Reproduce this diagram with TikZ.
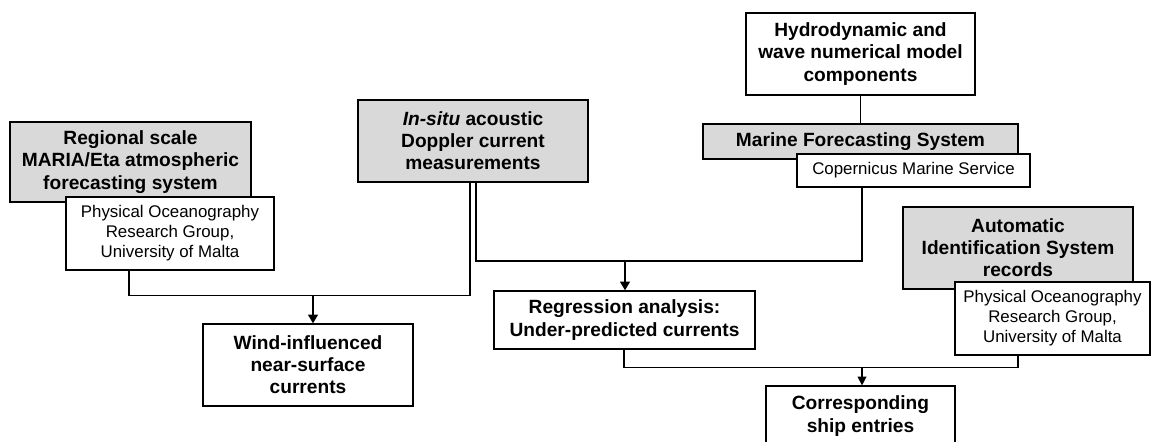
\documentclass[tikz,border=0pt]{standalone}
\usepackage{fontspec}
\setmainfont{Liberation Sans}
\usetikzlibrary{arrows.meta}
\definecolor{boxgrey}{HTML}{D9D9D9}
\tikzset{
	srcbox/.style={draw=black, line width=0.7pt, fill=boxgrey, inner sep=0pt, align=center,
		font=\fontsize{10.9}{12.6}\selectfont\bfseries},
	outbox/.style={draw=black, line width=0.7pt, fill=white, inner sep=0pt, align=center,
		font=\fontsize{10.9}{12.6}\selectfont\bfseries},
	orgbox/.style={draw=black, line width=0.7pt, fill=white, inner sep=0pt, align=center,
		font=\fontsize{9.6}{11.4}\selectfont},
	link/.style={line width=0.7pt},
	flow/.style={line width=1.2pt, -{Triangle[length=5pt,width=5.5pt]}},
	thinflow/.style={line width=0.7pt, -{Triangle[length=5pt,width=5pt]}}
}
\begin{document}
\begin{tikzpicture}[x=0.02cm,y=-0.02cm]
	\useasboundingbox (0,0) rectangle (1151,441);
	% input sources
	\node[srcbox, minimum width=4.82cm, minimum height=1.60cm] (regional) at (130.5,162) {Regional scale\\MARIA/Eta atmospheric\\forecasting system};
	\node[orgbox, minimum width=4.16cm, minimum height=1.46cm] (phys1) at (170,233.5) {Physical Oceanography\\Research Group,\\University of Malta};
	\node[srcbox, minimum width=4.60cm, minimum height=1.64cm] (insitu) at (473,141) {\textit{In-situ} acoustic\\Doppler current\\measurements};
	\node[outbox, minimum width=4.58cm, minimum height=1.64cm] (hydro) at (860.5,54) {Hydrodynamic and\\wave numerical model\\components};
	\node[srcbox, minimum width=6.30cm, minimum height=0.70cm] (marine) at (860.5,141.5) {Marine Forecasting System};
	\node[orgbox, minimum width=4.66cm, minimum height=0.66cm] (copern) at (913.5,170.5) {Copernicus Marine Service};
	\node[srcbox, minimum width=4.60cm, minimum height=1.64cm] (ais) at (1018,248) {Automatic\\Identification System\\records};
	\node[orgbox, minimum width=3.90cm, minimum height=1.46cm] (phys2) at (1052.5,318.5) {Physical Oceanography\\Research Group,\\University of Malta};
	% outputs
	\node[outbox, minimum width=4.20cm, minimum height=1.64cm] (wind) at (308,365) {Wind-influenced\\near-surface\\currents};
	\node[outbox, minimum width=5.22cm, minimum height=1.16cm] (regr) at (624.5,320) {Regression analysis:\\Under-predicted currents};
	\node[outbox, minimum width=3.78cm, minimum height=1.20cm] (corr) at (860.5,416) {Corresponding\\ship entries};
	% junctions
	\coordinate (j1) at (313,295.5);
	\coordinate (j2) at (625,261);
	\coordinate (j3) at (862,367.5);
	% connectors
	\draw[link] (hydro) -- (marine);
	\draw[link] (phys1.south -| 129,0) |- (j1) -| (insitu.south -| 470,0);
	\draw[link] (insitu.south -| 476,0) |- (j2) -| (copern.south -| 862,0);
	\draw[link] (regr.south -| 624,0) |- (j3) -| (phys2.south -| 1018,0);
	\draw[flow] (j1) -- (j1 |- wind.north);
	\draw[flow] (j2) -- (j2 |- regr.north);
	\draw[thinflow] (j3) -- (j3 |- corr.north);
\end{tikzpicture}
\end{document}
